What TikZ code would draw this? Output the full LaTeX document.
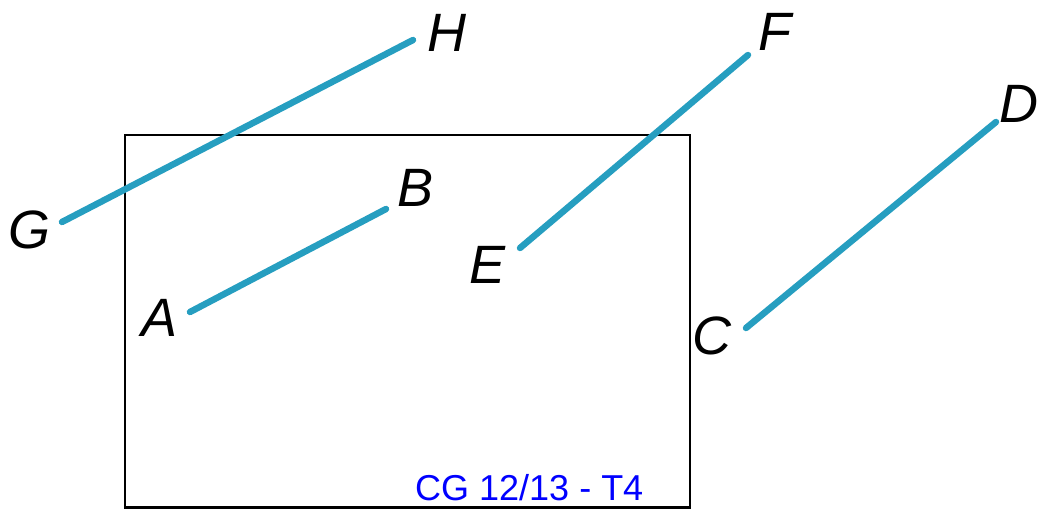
\documentclass[tikz,border=0pt]{standalone}
\usepackage{fontspec}
\setsansfont{Liberation Sans}
\usepackage{tikz}
\usetikzlibrary{positioning}
\definecolor{segteal}{RGB}{38,158,192}
\definecolor{linkblue}{RGB}{0,0,255}

\begin{document}
\begin{tikzpicture}[x=1pt,y=-1pt,
  seg/.style={segteal,line width=6.5pt,line cap=round},
  ptlabel/.style={font=\fontsize{54}{54}\selectfont\sffamily\itshape,inner sep=0pt}]
\useasboundingbox (0,0) rectangle (1039,509);
\draw[line width=2.4pt] (125,135) rectangle (690,507.5);
% segment end points
\coordinate (a) at (190,312); \coordinate (b) at (386,209);
\coordinate (c) at (746,328); \coordinate (d) at (996,122);
\coordinate (e) at (520,248); \coordinate (f) at (748,55);
\coordinate (g) at (62,222);  \coordinate (h) at (413,40);
\draw[seg] (g)--(h);
\draw[seg] (a)--(b);
\draw[seg] (e)--(f);
\draw[seg] (c)--(d);
\node[ptlabel] (labA) at (160,318) {A};
\node[ptlabel] (labB) at (416,188) {B};
\node[ptlabel] (labC) at (712,336) {C};
\node[ptlabel] (labD) at (1019,104) {D};
\node[ptlabel] (labE) at (488,265) {E};
\node[ptlabel] (labF) at (775,32) {F};
\node[ptlabel] (labG) at (30,230) {G};
\node[ptlabel] (labH) at (447,33) {H};
\node[font=\fontsize{36}{36}\selectfont\sffamily,text=linkblue,inner sep=0pt,anchor=base west] (credit) at (415,500) {CG 12/13 - T4};
\end{tikzpicture}
\end{document}
